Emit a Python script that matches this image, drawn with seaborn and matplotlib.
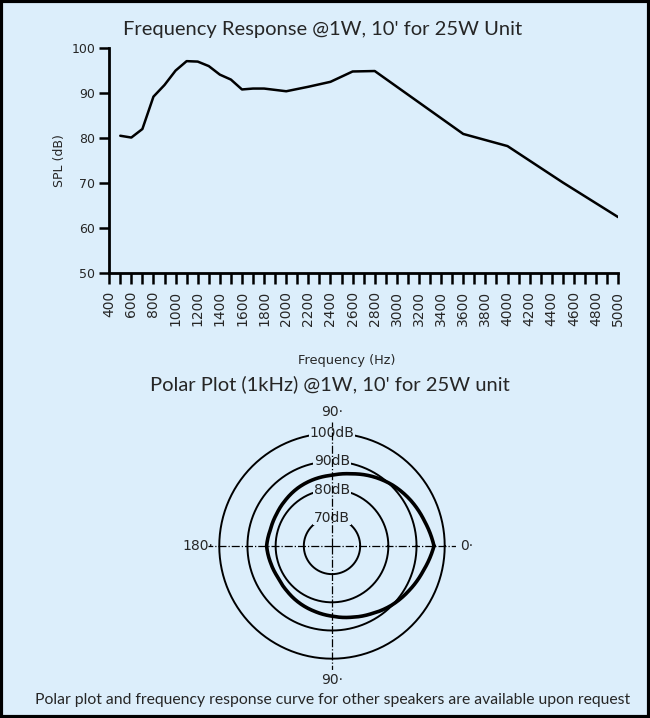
import numpy as np
import seaborn as sns
import matplotlib.pyplot as plt
from matplotlib.patches import Rectangle

# Frequency response
freq_hz = [500, 600, 700, 800, 900, 1000, 1100, 1200, 1300, 1400, 1500, 1600, 1700, 1800,
           2000, 2200, 2400, 2600, 2800, 3600, 4000, 4500, 5000]
spl_db = [80.5, 80.1, 82.0, 89.2, 91.8, 95.0, 97.1, 97.0, 96.0, 94.1, 93.0, 90.8, 91.0, 91.0,
          90.4, 91.4, 92.5, 94.8, 94.9, 80.9, 78.2, 70.1, 62.4]
freq_ticks = list(range(400, 5001, 200))
spl_ticks = [50, 60, 70, 80, 90, 100]

# Polar response at 1 kHz
polar_deg = [0, 15, 30, 45, 60, 75, 90, 105, 120, 135, 150, 165,
             180, 195, 210, 225, 240, 255, 270, 285, 300, 315, 330, 345]
polar_db = [96.2, 94.0, 92.3, 90.5, 88.5, 86.5, 85.1, 84.5, 83.9, 83.2, 82.7, 82.6,
            83.2, 82.6, 82.2, 82.6, 83.3, 84.0, 84.9, 86.2, 87.8, 89.8, 91.6, 93.6]
ring_db = [70, 80, 90, 100]
ring_labels = ['70dB', '80dB', '90dB', '100dB']
angle_labels = ['0·', '90·', '180·', '90·']

bg = '#dceefb'
sns.set_style('ticks')
plt.rcParams['font.family'] = ['Lato', 'DejaVu Sans']

fig = plt.figure(figsize=(6.5, 7.18), dpi=100, facecolor=bg)

# ---- frequency response ----
ax = fig.add_axes([0.168, 0.620, 0.783, 0.313], facecolor=bg)
sns.lineplot(x=freq_hz, y=spl_db, ax=ax, color='black', linewidth=1.8)
ax.set_xlim(400, 5000)
ax.set_ylim(50, 100)
ax.set_xticks(freq_ticks)
ax.set_xticklabels([str(f) for f in freq_ticks], rotation=90, fontsize=10, family='DejaVu Sans')
ax.set_xticks(range(500, 5000, 200), minor=True)
ax.set_yticks(spl_ticks)
ax.set_yticklabels([str(s) for s in spl_ticks], fontsize=9, family='DejaVu Sans')
ax.tick_params(axis='both', which='both', direction='out', length=8, width=1.8, color='black')
ax.tick_params(axis='x', pad=5)
ax.tick_params(axis='y', length=7, pad=3)
for s in ['top', 'right']:
    ax.spines[s].set_visible(False)
for s in ['left', 'bottom']:
    ax.spines[s].set_linewidth(2)
    ax.spines[s].set_color('black')
ax.set_xlabel('Frequency (Hz)', fontsize=9.3, family='DejaVu Sans')
ax.set_ylabel('SPL (dB)', fontsize=9, family='DejaVu Sans')
ax.xaxis.set_label_coords(0.466, -0.36)
ax.yaxis.set_label_coords(-0.085, 0.5)
fig.text(0.497, 0.959, "Frequency Response @1W, 10' for 25W Unit", ha='center', va='center', fontsize=14.5)

# ---- polar plot ----
pax = fig.add_axes([0.32, 0.0669, 0.3815, 0.3454], projection='polar', facecolor=bg)
theta = np.deg2rad(polar_deg + [polar_deg[0] + 360])
r = polar_db + [polar_db[0]]
sns.lineplot(x=theta, y=r, ax=pax, sort=False, estimator=None, color='black', linewidth=2.6, zorder=5)
# draw the segments as arcs in polar space rather than straight chords
resp_line = pax.lines[-1]
resp_line.get_path()._interpolation_steps = 30
pax.set_rlim(60, 104)
pax.set_rgrids(ring_db, labels=['' for _ in ring_db])
pax.set_thetagrids([0, 90, 180, 270], labels=angle_labels, fontsize=10, family='DejaVu Sans')
pax.grid(False)
pax.spines['polar'].set_visible(False)
pax.tick_params(axis='x', pad=-3)
ring_theta = np.linspace(0, 2 * np.pi, 361)
for db in ring_db:
    pax.plot(ring_theta, np.full_like(ring_theta, db), color='black', linewidth=1.4, zorder=2)
for db, lab in zip(ring_db, ring_labels):
    pax.text(np.pi / 2, db, lab, ha='center', va='center', fontsize=10, family='DejaVu Sans',
             zorder=3, bbox=dict(facecolor=bg, edgecolor='none', pad=0.5))
for a in [0, 90, 180, 270]:
    pax.axvline(np.deg2rad(a), color='black', linestyle='-.', linewidth=0.9, zorder=4)
fig.text(0.507, 0.465, "Polar Plot (1kHz) @1W, 10' for 25W unit", ha='center', va='center', fontsize=14.5)

fig.text(0.511, 0.025, 'Polar plot and frequency response curve for other speakers are available upon request',
         ha='center', va='center', fontsize=11.3)

fig.patches.append(Rectangle((0.002, 0.002), 0.996, 0.996, transform=fig.transFigure,
                             fill=False, edgecolor='black', linewidth=3))

fig.savefig('out.png', dpi=100, facecolor=bg)
